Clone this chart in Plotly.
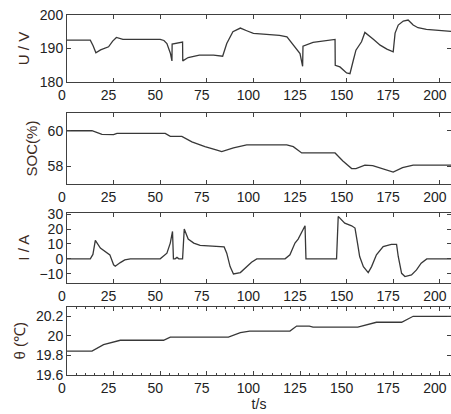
import plotly.graph_objects as go

# ---- data ----
t_u = [0, 12.5, 14, 15.5, 18, 22.3, 24.5, 26.5, 30, 50, 52, 53.6, 55.5, 56.3, 56.4, 62, 62.1, 65, 71,
       78.6, 83.5, 85.7, 89, 93, 96.4, 100, 107, 114, 118, 121, 125, 126.4, 126.6, 132, 137.5, 143.8,
       143.9, 146.4, 150, 151.8, 153.6, 155, 158, 159.8, 164.5, 168, 171.6, 175, 176, 177.7, 180.4,
       183, 185.7, 188.3, 192.8, 200, 206]
u_vals = [192.5, 192.5, 190.8, 188.7, 189.6, 190.5, 192.2, 193.3, 192.7, 192.7, 192.4, 191.5, 188.5,
          186.3, 191.3, 191.9, 186.3, 187.3, 188.0, 188.0, 187.7, 191.5, 195.0, 196.1, 195.3, 194.5,
          194.2, 193.9, 193.5, 191.5, 188.5, 184.7, 190.7, 191.8, 192.3, 192.7, 185.0, 184.5, 182.7,
          182.5, 186.5, 189.5, 192.0, 194.8, 192.7, 191.0, 189.8, 189.0, 194.6, 197.0, 198.2, 198.5,
          197.0, 196.2, 195.7, 195.3, 195.1]

t_soc = [0, 13.4, 18.75, 25, 26.8, 52.7, 55.4, 61.6, 67, 74, 80, 83, 89.3, 96.4, 117.9, 121.4, 125.9,
         143.8, 148, 152.7, 155, 159.8, 164, 169.6, 175, 180, 185.7, 206]
soc_vals = [60.0, 60.0, 59.8, 59.78, 59.85, 59.85, 59.68, 59.68, 59.37, 59.1, 58.92, 58.83, 59.04,
            59.2, 59.2, 59.1, 58.75, 58.75, 58.3, 57.87, 57.87, 58.06, 58.04, 57.83, 57.67, 57.92,
            58.06, 58.06]

t_i = [0, 12.5, 13.9, 15.2, 17.9, 21.4, 23, 25, 25.9, 28.6, 31, 34, 50, 53.6, 55.4, 56.6, 57.1, 58,
       59, 60, 62, 62.9, 65, 68, 71.4, 84.3, 85.7, 87.5, 89.3, 93, 96.4, 99, 101.8, 117, 119.6, 122.3,
       124, 127.7, 128.2, 144.6, 145.5, 147.3, 149, 152.7, 154.5, 156, 157, 159, 161.6, 163.4, 166,
       169.6, 174, 176.8, 177.7, 179.5, 181.3, 184.8, 187.5, 190, 193, 206]
i_vals = [0, 0, 3, 12.4, 7.2, 3.8, 2.7, -4, -4.9, -2.5, -0.7, 0, 0, 3.8, 10.6, 18.4, 0, 0, 1, 0, 0,
          20, 13.3, 10.6, 9, 8, 3.8, -5.2, -10.1, -9.2, -5.2, -2.2, 0, 0, 2.7, 10.6, 13.3, 22.2, 0, 0,
          28.5, 26.3, 24, 22.2, 20.7, 9.4, 1.6, -5.2, -9.2, -5.2, 2.7, 8.3, 9.7, 9.7, 1.6, -9.7,
          -11.9, -10.8, -7.4, -2.9, 0, 0]

t_th = [0, 13.4, 19.6, 25, 28.6, 48, 51.8, 55.4, 86.6, 93, 98, 119.6, 123.2, 130, 132, 156, 162.5,
        166, 179.5, 185.7, 206]
th_vals = [19.845, 19.845, 19.911, 19.942, 19.955, 19.955, 19.955, 19.987, 19.987, 20.032, 20.049,
           20.049, 20.10, 20.10, 20.09, 20.09, 20.125, 20.139, 20.139, 20.20, 20.20]

x_ticks = [0, 25, 50, 75, 100, 125, 150, 175, 200]
titles = ["U / V", "SOC(%)", "I / A", "θ (℃)"]
y_ranges = [[180, 200], [57, 61], [-16, 31], [19.6, 20.3]]
y_ticks = [[180, 190, 200], [58, 60], [-10, 0, 10, 20, 30], [19.6, 19.8, 20, 20.2]]
y_ticktext = [None, None, None, ["19.6", "19.8", "20", "20.2"]]

W, H = 451, 414
# page-pixel top/bottom of each panel
panels_px = [(15, 82), (113, 184), (212.7, 282.7), (306.5, 375)]

series = [(t_u, u_vals), (t_soc, soc_vals), (t_i, i_vals), (t_th, th_vals)]

FONT = "Arial, Liberation Sans, sans-serif"
AX = "#404040"
fig = go.Figure()
layout = {}
for k, ((tx, ty), (top, bot)) in enumerate(zip(series, panels_px)):
    n = "" if k == 0 else str(k + 1)
    fig.add_trace(go.Scatter(x=tx, y=ty, mode="lines", xaxis="x" + n, yaxis="y" + n,
                             line=dict(color="#383838", width=1.3), showlegend=False,
                             hoverinfo="skip"))
    xa = dict(domain=[0, 1], range=[0, 206], anchor="y" + n, tickvals=x_ticks,
              showline=True, linecolor=AX, linewidth=1, mirror="allticks",
              ticks="inside", ticklen=4, tickcolor=AX, showgrid=False, zeroline=False,
              automargin=False, ticklabeloverflow="allow", ticklabelshift=-5,
              tickfont=dict(family=FONT, size=14, color="#222"))
    if k == 3:
        xa["minor"] = dict(dtick=5, ticks="inside", ticklen=2.5, tickcolor=AX)
        xa["title"] = dict(text="t/s", font=dict(family=FONT, size=14, color="#222"), standoff=2)
    ya = dict(domain=[1 - bot / H, 1 - top / H], range=y_ranges[k], anchor="x" + n,
              tickvals=y_ticks[k], showline=True, linecolor=AX, linewidth=1, mirror="allticks",
              ticks="inside", ticklen=4, tickcolor=AX, showgrid=False, zeroline=False,
              automargin=False, ticklabeloverflow="allow",
              tickfont=dict(family=FONT, size=14, color="#222"),
              title=dict(text=titles[k], font=dict(family=FONT, size=15, color="#3d2b1f"),
                         standoff=6))
    if y_ticktext[k]:
        ya["ticktext"] = y_ticktext[k]
    layout["xaxis" + n] = xa
    layout["yaxis" + n] = ya

fig.update_layout(**layout)
fig.update_layout(width=W, height=H, margin=dict(l=67, r=0, t=0, b=0, autoexpand=False),
                  paper_bgcolor="white", plot_bgcolor="white")
fig.write_html("out.html", config={"displayModeBar": False},
               post_script="document.body.style.margin='0';document.body.style.overflow='hidden';")
